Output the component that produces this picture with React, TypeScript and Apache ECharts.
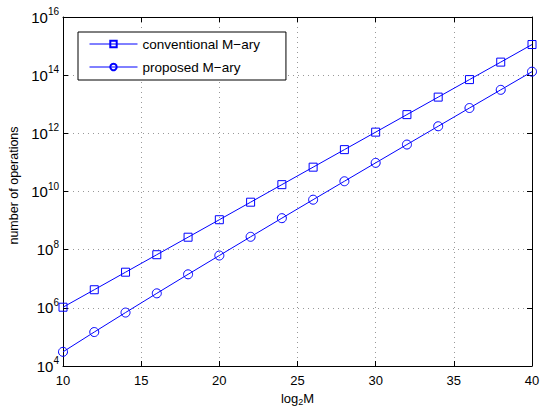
import React, { useEffect, useRef } from "react";
import * as echarts from "echarts";

const log2M = [10, 12, 14, 16, 18, 20, 22, 24, 26, 28, 30, 32, 34, 36, 38, 40];
const conventional = [
  1.05e6, 4.19e6, 1.68e7, 6.71e7, 2.68e8, 1.07e9, 4.29e9, 1.72e10,
  6.87e10, 2.75e11, 1.1e12, 4.4e12, 1.76e13, 7.04e13, 2.81e14, 1.13e15,
];
const proposed = [
  3.07e4, 1.47e5, 6.88e5, 3.15e6, 1.42e7, 6.29e7, 2.77e8, 1.21e9,
  5.23e9, 2.25e10, 9.66e10, 4.12e11, 1.75e12, 7.42e12, 3.13e13, 1.32e14,
];
const seriesNames = ["conventional M\u2212ary", "proposed M\u2212ary"];
const xTicks = [10, 15, 20, 25, 30, 35, 40];
const yExponents = [4, 6, 8, 10, 12, 14, 16];

const FONT = "Liberation Sans, Arial, Helvetica, sans-serif";
const BLUE = "#0000ff";
const CLEAR = "rgba(255,255,255,0)";

export default function App() {
  const ref = useRef<HTMLDivElement>(null);
  useEffect(() => {
    if (!ref.current) return;
    const chart = echarts.init(ref.current, undefined, { renderer: "svg" });
    const grid = {
      left: 63,
      right: 11,
      top: 17,
      bottom: 42,
      containLabel: false,
      outerBoundsMode: "none",
    };
    const gridLine = { show: true, lineStyle: { color: "#999", width: 1, type: [1, 4] as any } };
    const yMin = Math.pow(10, yExponents[0]);
    const yMax = Math.pow(10, yExponents[yExponents.length - 1]);
    const option: any = {
      animation: false,
      backgroundColor: "#fff",
      textStyle: { fontFamily: FONT },
      grid,
      legend: {
        orient: "vertical",
        left: 78,
        top: 32,
        data: seriesNames,
        backgroundColor: "#fff",
        borderColor: "#000",
        borderWidth: 1,
        borderRadius: 0,
        padding: [5, 26, 6, 11],
        itemWidth: 48,
        itemHeight: 8,
        itemGap: 9,
        itemTextGap: 6,
        lineStyle: { width: 1 },
        textStyle: { fontFamily: FONT, fontSize: 13.5, color: "#000" },
      },
      xAxis: [
        {
          type: "value",
          min: xTicks[0],
          max: xTicks[xTicks.length - 1],
          interval: 5,
          name: "log{s|2}M",
          nameLocation: "middle",
          nameGap: 19,
          nameTextStyle: {
            fontFamily: FONT,
            fontSize: 13,
            color: "#000",
            rich: {
              s: { fontSize: 9, fontFamily: FONT, color: "#000", padding: [8, 0, 0, 0] },
            },
          },
          axisLine: { show: true, lineStyle: { color: "#000", width: 1 } },
          axisTick: { show: true, inside: true, length: 5, lineStyle: { color: "#000" } },
          axisLabel: { color: "#000", fontSize: 13, fontFamily: FONT, margin: 8 },
          splitLine: gridLine,
        },
        {
          type: "value",
          position: "top",
          min: xTicks[0],
          max: xTicks[xTicks.length - 1],
          interval: 5,
          axisLine: { show: true, lineStyle: { color: "#000", width: 1 } },
          axisTick: { show: true, inside: true, length: 5, lineStyle: { color: "#000" } },
          axisLabel: { show: false },
          splitLine: { show: false },
        },
      ],
      yAxis: [
        {
          type: "log",
          logBase: 10,
          min: yMin,
          max: yMax,
          interval: 2,
          name: "number of operations",
          nameLocation: "middle",
          nameGap: 39,
          nameTextStyle: { fontFamily: FONT, fontSize: 12.5, color: "#000", padding: [0, 0, 0, 12] },
          axisLine: { show: true, lineStyle: { color: "#000", width: 1 } },
          axisTick: { show: true, inside: true, length: 5, lineStyle: { color: "#000" } },
          axisLabel: {
            margin: 4,
            formatter: (v: number) => `{b|10}{e|${Math.round(Math.log10(v))}}`,
            rich: {
              b: { fontSize: 15, fontFamily: FONT, color: "#000" },
              e: { fontSize: 10, fontFamily: FONT, color: "#000", padding: [0, 0, 11, 0] },
            },
          },
          splitLine: gridLine,
        },
        {
          type: "log",
          logBase: 10,
          position: "right",
          min: yMin,
          max: yMax,
          interval: 2,
          axisLine: { show: true, lineStyle: { color: "#000", width: 1 } },
          axisTick: { show: true, inside: true, length: 5, lineStyle: { color: "#000" } },
          axisLabel: { show: false },
          splitLine: { show: false },
        },
      ],
      series: [
        {
          name: seriesNames[0],
          type: "line",
          data: log2M.map((m, i) => [m, conventional[i]]),
          symbol: "rect",
          symbolSize: 8,
          lineStyle: { color: BLUE, width: 1 },
          itemStyle: { color: CLEAR, borderColor: BLUE, borderWidth: 1 },
        },
        {
          name: seriesNames[1],
          type: "line",
          data: log2M.map((m, i) => [m, proposed[i]]),
          symbol: "circle",
          symbolSize: 9,
          lineStyle: { color: BLUE, width: 1 },
          itemStyle: { color: CLEAR, borderColor: BLUE, borderWidth: 1 },
        },
      ],
    };
    chart.setOption(option);
    return () => chart.dispose();
  }, []);
  return (
    <div
      ref={ref}
      style={{ position: "fixed", left: 0, top: 0, width: 543, height: 408 }}
    />
  );
}
